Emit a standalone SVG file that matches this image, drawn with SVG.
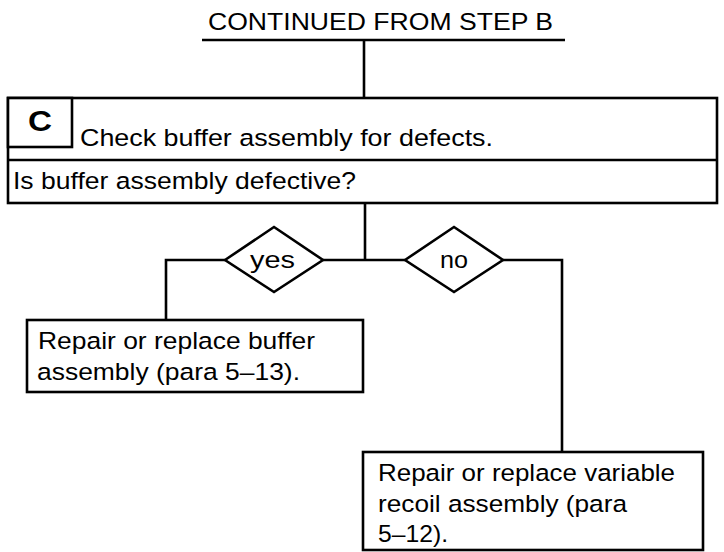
<svg xmlns="http://www.w3.org/2000/svg" width="724" height="552" viewBox="0 0 724 552">
<style>
text{font-family:"Liberation Sans",Arial,sans-serif;font-size:24.5px;fill:#000}
.box{fill:#fff;stroke:#000;stroke-width:2.6}
.ln{fill:none;stroke:#000;stroke-width:2.6}
.dia{fill:#fff;stroke:#000;stroke-width:2.6}
</style>
<rect width="724" height="552" fill="#fff"/>
<g id="title">
<text x="208" y="30" textLength="345" lengthAdjust="spacingAndGlyphs" style="font-size:23px">CONTINUED FROM STEP B</text>
<line class="ln" x1="202" y1="40" x2="565" y2="40"/>
</g>
<g id="connectors">
<line class="ln" x1="364" y1="40" x2="364" y2="98"/>
<line class="ln" x1="365" y1="203" x2="365" y2="260"/>
<polyline class="ln" points="225,260 166,260 166,320"/>
<line class="ln" x1="323" y1="260" x2="405" y2="260"/>
<polyline class="ln" points="503,260 562,260 562,452"/>
</g>
<g id="stepC">
<rect class="box" x="8" y="98" width="709" height="105"/>
<line class="ln" x1="8" y1="160" x2="717" y2="160"/>
<rect class="box" x="8" y="98" width="64" height="49"/>
<text x="28" y="131" textLength="24" lengthAdjust="spacingAndGlyphs" style="font-weight:bold;font-size:29px">C</text>
<text x="80" y="146" textLength="413" lengthAdjust="spacingAndGlyphs">Check buffer assembly for defects.</text>
<text x="13" y="189" textLength="343" lengthAdjust="spacingAndGlyphs">Is buffer assembly defective?</text>
</g>
<g id="yes">
<polygon class="dia" points="225,260 274,227 323,260 274,292"/>
<text x="250" y="268" textLength="45" lengthAdjust="spacingAndGlyphs">yes</text>
</g>
<g id="no">
<polygon class="dia" points="405,260 454,227 503,260 454,292"/>
<text x="440" y="268" textLength="28" lengthAdjust="spacingAndGlyphs">no</text>
</g>
<g id="repairBuffer">
<rect class="box" x="27" y="320" width="336" height="72"/>
<text x="38" y="349" textLength="277" lengthAdjust="spacingAndGlyphs">Repair or replace buffer</text>
<text x="37" y="380" textLength="263" lengthAdjust="spacingAndGlyphs">assembly (para 5–13).</text>
</g>
<g id="repairRecoil">
<rect class="box" x="363" y="452" width="340" height="98"/>
<text x="378" y="481" textLength="297" lengthAdjust="spacingAndGlyphs">Repair or replace variable</text>
<text x="378" y="512" textLength="249" lengthAdjust="spacingAndGlyphs">recoil assembly (para</text>
<text x="378" y="542" textLength="70" lengthAdjust="spacingAndGlyphs">5–12).</text>
</g>
</svg>
